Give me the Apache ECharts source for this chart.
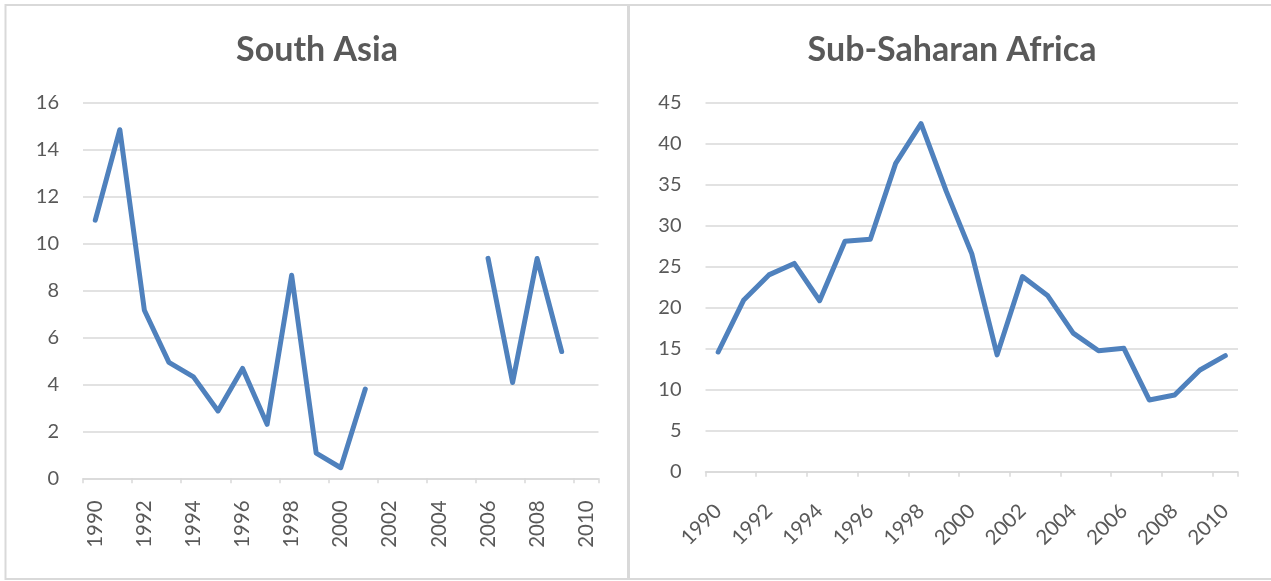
<!DOCTYPE html>
<html>
<head>
<meta charset="utf-8">
<script src="https://cdn.jsdelivr.net/npm/echarts@6/dist/echarts.min.js"></script>
<style>
html,body{margin:0;padding:0;background:#fff;}
#c{width:1271px;height:581px;}
</style>
</head>
<body>
<div id="c"></div>
<script>
const years = ['1990','1991','1992','1993','1994','1995','1996','1997','1998','1999','2000','2001','2002','2003','2004','2005','2006','2007','2008','2009','2010'];
const southAsia = [11.0, 14.85, 7.16, 4.94, 4.32, 2.87, 4.68, 2.3, 8.65, 1.07, 0.45, 3.8, null, null, null, null, 9.37, 4.08, 9.36, 5.4, null];
const subSaharan = [14.6, 20.9, 24.0, 25.4, 20.85, 28.1, 28.35, 37.6, 42.45, 34.15, 26.6, 14.25, 23.8, 21.45, 16.9, 14.75, 15.05, 8.75, 9.35, 12.4, 14.15];
const titles = ['South Asia', 'Sub-Saharan Africa'];

const gray = '#595959';
const gridColor = '#d9d9d9';
const lineColor = '#4f81bd';
const font = 'Lato, "Open Sans", sans-serif';

function xAxisCfg(gridIndex, rotate, margin) {
  return {
    type: 'category', gridIndex, data: years, boundaryGap: true,
    axisLine: {show: true, lineStyle: {color: gridColor, width: 1.5}},
    axisTick: {show: true, interval: 1, length: 5, lineStyle: {color: gridColor, width: 1.5}},
    axisLabel: {interval: 1, rotate, margin, color: gray, fontSize: 20.5, fontFamily: font}
  };
}
function yAxisCfg(gridIndex, max, interval) {
  return {
    type: 'value', gridIndex, min: 0, max, interval,
    axisLine: {show: false}, axisTick: {show: false},
    splitLine: {show: true, lineStyle: {color: gridColor, width: 1.5}},
    axisLabel: {margin: 24, color: gray, fontSize: 20, fontFamily: font}
  };
}

const chart = echarts.init(document.getElementById('c'), null, {renderer: 'canvas'});
chart.setOption({
  animation: false,
  backgroundColor: '#fff',
  title: [
    {text: titles[0], left: 312, top: 28, textAlign: 'center',
     textStyle: {color: gray, fontSize: 34, fontWeight: 'bold', fontFamily: font}},
    {text: titles[1], left: 947, top: 28, textAlign: 'center',
     textStyle: {color: gray, fontSize: 34, fontWeight: 'bold', fontFamily: font}}
  ],
  grid: [
    {left: 83, top: 102.7, width: 515.5, height: 375.6},
    {left: 705.5, top: 102.7, width: 532.5, height: 369}
  ],
  xAxis: [xAxisCfg(0, 90, 22), xAxisCfg(1, 45, 36)],
  yAxis: [yAxisCfg(0, 16, 2), yAxisCfg(1, 45, 5)],
  series: [
    {type: 'line', xAxisIndex: 0, yAxisIndex: 0, data: southAsia, showSymbol: false, symbol: 'none',
     connectNulls: false, lineStyle: {color: lineColor, width: 5, cap: 'round', join: 'round'}},
    {type: 'line', xAxisIndex: 1, yAxisIndex: 1, data: subSaharan, showSymbol: false, symbol: 'none',
     lineStyle: {color: lineColor, width: 5, cap: 'round', join: 'round'}}
  ],
  graphic: [
    {type: 'rect', shape: {x: 5.5, y: 5, width: 622.5, height: 574}, style: {fill: null, stroke: gridColor, lineWidth: 2}, silent: true},
    {type: 'rect', shape: {x: 629, y: 5, width: 660, height: 574}, style: {fill: null, stroke: gridColor, lineWidth: 2}, silent: true}
  ]
});
</script>
</body>
</html>
